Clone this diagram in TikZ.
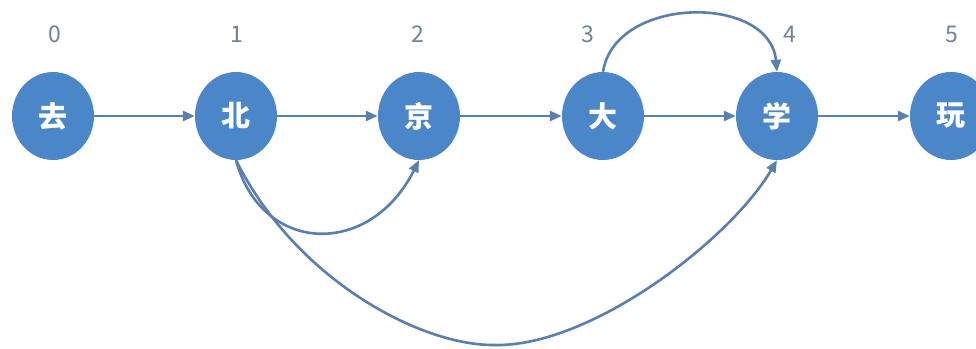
\documentclass[tikz,border=0pt]{standalone}
\usepackage{fontspec}
\setmainfont{Noto Sans CJK SC}
\newfontfamily\cjk{Noto Sans CJK SC}
\usetikzlibrary{arrows.meta,shapes.geometric}
\definecolor{nodeblue}{HTML}{4A86C8}
\definecolor{edgeblue}{HTML}{5A7FAD}
\definecolor{labgray}{HTML}{6E8398}
\begin{document}
\begin{tikzpicture}[x=1pt,y=-1pt,
  charnode/.style={ellipse,fill=nodeblue,draw=none,minimum width=82pt,minimum height=88pt,inner sep=0pt,
    text=white,font=\cjk\bfseries\fontsize{29}{29}\selectfont},
  idxlabel/.style={text=labgray,font=\cjk\fontsize{23}{23}\selectfont,inner sep=0pt},
  edge/.style={draw=edgeblue,line width=2.6pt,-{Triangle[length=12pt,width=10pt]}}]
\clip (0,0) rectangle (976,348);
\fill[white] (0,0) rectangle (976,348);
\node[charnode] (n0) at (53,116) {去};
\node[charnode] (n1) at (236,116) {北};
\node[charnode] (n2) at (419,116) {京};
\node[charnode] (n3) at (603,116) {大};
\node[charnode] (n4) at (777,116) {学};
\node[charnode] (n5) at (951,116) {玩};
\node[idxlabel] (l0) at (55,34) {0};
\node[idxlabel] (l1) at (237,34) {1};
\node[idxlabel] (l2) at (418,34) {2};
\node[idxlabel] (l3) at (588,34) {3};
\node[idxlabel] (l4) at (790,34) {4};
\node[idxlabel] (l5) at (952,34) {5};
\draw[edge] (n0) -- (n1);
\draw[edge] (n1) -- (n2);
\draw[edge] (n2) -- (n3);
\draw[edge] (n3) -- (n4);
\draw[edge] (n4) -- (n5);
% 3 -> 4 over the top
\draw[edge] (n3.north) .. controls (615,-5) and (770,-6) .. (n4.north);
% 1 -> 2 below
\draw[edge] (n1.south) .. controls (262,255) and (370,258) .. (n2.south);
% 1 -> 4 big arc below
\coordinate (bot) at (493,345);
\draw[edge] (n1.south) .. controls (296,280) and (420,345) .. (bot)
  .. controls (590,348) and (730,240) .. (n4.south);
\end{tikzpicture}
\end{document}
